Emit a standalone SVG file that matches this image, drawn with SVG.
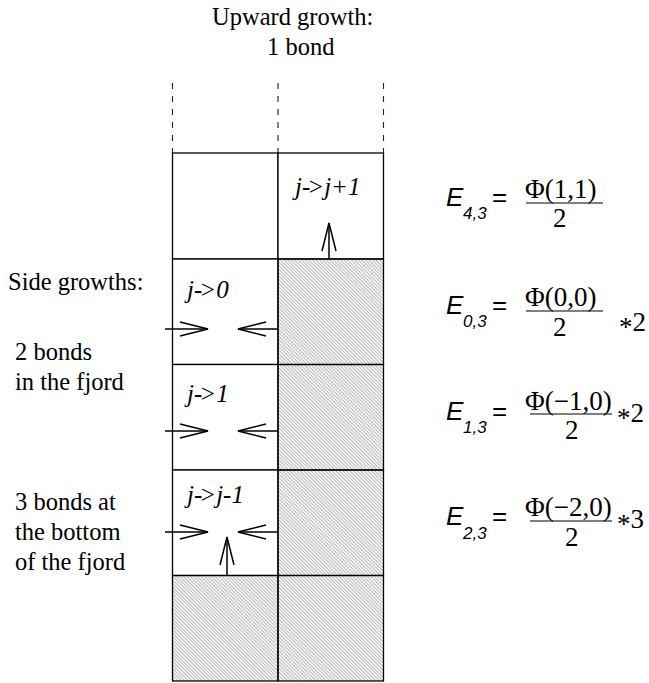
<svg xmlns="http://www.w3.org/2000/svg" width="649" height="683" viewBox="0 0 649 683">
<style>
.cell{fill:#fff;stroke:#000;stroke-width:1.3}
.hatch{fill:url(#hatch);stroke:#000;stroke-width:1.3}
.dash{stroke:#222;stroke-width:1.1;stroke-dasharray:6 7;fill:none}
.lbl{font-family:"Liberation Serif","Times New Roman",serif;font-size:24.5px;fill:#000}
.cl{font-family:"Liberation Serif","Times New Roman",serif;font-size:25px;font-style:italic;fill:#000}
.cl .h{letter-spacing:-3px}
.E{font-family:"Liberation Sans",Arial,sans-serif;font-size:26px;font-style:italic;fill:#000}
.sub{font-family:"Liberation Sans",Arial,sans-serif;font-size:17px;font-style:italic;fill:#000}
.eq{font-family:"Liberation Sans",Arial,sans-serif;font-size:26px;fill:#000}
.num{font-family:"Liberation Serif","Times New Roman",serif;font-size:27px;fill:#000}
.bar{stroke:#000;stroke-width:1.2}
.arr{stroke:#000;stroke-width:1.5;fill:none;marker-end:url(#head)}
</style>
<defs>
<pattern id="hatch" patternUnits="userSpaceOnUse" width="8" height="2.5" patternTransform="rotate(45)">
<line x1="0" y1="0.6" x2="8" y2="0.6" stroke="#8c8c8c" stroke-width="0.75"/>
</pattern>
<marker id="head" markerUnits="userSpaceOnUse" markerWidth="32" markerHeight="18" viewBox="0 -9 32 18" refX="29" refY="0" orient="auto">
<path d="M1,-7 L29,0 L1,7" fill="none" stroke="#000" stroke-width="1.5"/>
</marker>
</defs>

<g id="title">
<text class="lbl" x="212" y="25">Upward growth:</text>
<text class="lbl" x="267" y="55">1 bond</text>
</g>

<g id="side-labels">
<text class="lbl" x="8" y="290">Side growths:</text>
<text class="lbl" x="15" y="360">2 bonds</text>
<text class="lbl" x="15" y="390">in the fjord</text>
<text class="lbl" x="15" y="510">3 bonds at</text>
<text class="lbl" x="15" y="540">the bottom</text>
<text class="lbl" x="15" y="570">of the fjord</text>
</g>

<g id="open-top">
<line class="dash" x1="172.5" y1="83" x2="172.5" y2="153"/>
<line class="dash" x1="278" y1="83" x2="278" y2="153"/>
<line class="dash" x1="383.5" y1="83" x2="383.5" y2="153"/>
</g>

<g id="cell-L1"><rect class="cell" x="172.5" y="153" width="105.5" height="106"/></g>
<g id="cell-R1"><rect class="cell" x="278" y="153" width="105.5" height="106"/>
<text class="cl" x="295" y="195">j<tspan class="h">-</tspan>&gt;j+1</text></g>
<g id="cell-L2"><rect class="cell" x="172.5" y="259" width="105.5" height="105.5"/>
<text class="cl" x="187" y="298">j<tspan class="h">-</tspan>&gt;0</text></g>
<g id="cell-R2"><rect class="hatch" x="278" y="259" width="105.5" height="105.5"/></g>
<g id="cell-L3"><rect class="cell" x="172.5" y="364.5" width="105.5" height="105.5"/>
<text class="cl" x="187" y="402">j<tspan class="h">-</tspan>&gt;1</text></g>
<g id="cell-R3"><rect class="hatch" x="278" y="364.5" width="105.5" height="105.5"/></g>
<g id="cell-L4"><rect class="cell" x="172.5" y="470" width="105.5" height="105.5"/>
<text class="cl" x="187" y="503">j<tspan class="h">-</tspan>&gt;j-1</text></g>
<g id="cell-R4"><rect class="hatch" x="278" y="470" width="105.5" height="105.5"/></g>
<g id="cell-L5"><rect class="hatch" x="172.5" y="575.5" width="105.5" height="105.5"/></g>
<g id="cell-R5"><rect class="hatch" x="278" y="575.5" width="105.5" height="105.5"/></g>

<g id="connectors">
<line class="arr" x1="329" y1="259" x2="329" y2="223"/>
<line class="arr" x1="165" y1="329" x2="208" y2="329"/>
<line class="arr" x1="278" y1="329" x2="238" y2="329"/>
<line class="arr" x1="165" y1="431" x2="208" y2="431"/>
<line class="arr" x1="278" y1="431" x2="238" y2="431"/>
<line class="arr" x1="165" y1="532" x2="208" y2="532"/>
<line class="arr" x1="278" y1="532" x2="238" y2="532"/>
<line class="arr" x1="227" y1="576" x2="227" y2="537"/>
</g>

<g id="eq-4-3">
<text class="E" x="446" y="206">E</text>
<text class="sub" x="463" y="219">4,3</text>
<text class="eq" x="492" y="206">=</text>
<text class="num" x="525" y="198">Φ(1,1)</text>
<line class="bar" x1="526" y1="203" x2="603" y2="203"/>
<text class="num" x="553" y="227">2</text>
</g>
<g id="eq-0-3">
<text class="E" x="446" y="314">E</text>
<text class="sub" x="463" y="327">0,3</text>
<text class="eq" x="492" y="314">=</text>
<text class="num" x="525" y="306">Φ(0,0)</text>
<line class="bar" x1="526" y1="311" x2="603" y2="311"/>
<text class="num" x="553" y="336">2</text>
<text class="num" x="619" y="331"><tspan baseline-shift="-5">*</tspan>2</text>
</g>
<g id="eq-1-3">
<text class="E" x="446" y="420">E</text>
<text class="sub" x="463" y="433">1,3</text>
<text class="eq" x="492" y="420">=</text>
<text class="num" x="525" y="410">Φ(−1,0)</text>
<line class="bar" x1="530" y1="414" x2="612" y2="414"/>
<text class="num" x="565" y="439">2</text>
<text class="num" x="617" y="422"><tspan baseline-shift="-5">*</tspan>2</text>
</g>
<g id="eq-2-3">
<text class="E" x="446" y="525">E</text>
<text class="sub" x="463" y="539">2,3</text>
<text class="eq" x="492" y="525">=</text>
<text class="num" x="525" y="516">Φ(−2,0)</text>
<line class="bar" x1="530" y1="521" x2="612" y2="521"/>
<text class="num" x="565" y="546">2</text>
<text class="num" x="617" y="528"><tspan baseline-shift="-5">*</tspan>3</text>
</g>
</svg>
